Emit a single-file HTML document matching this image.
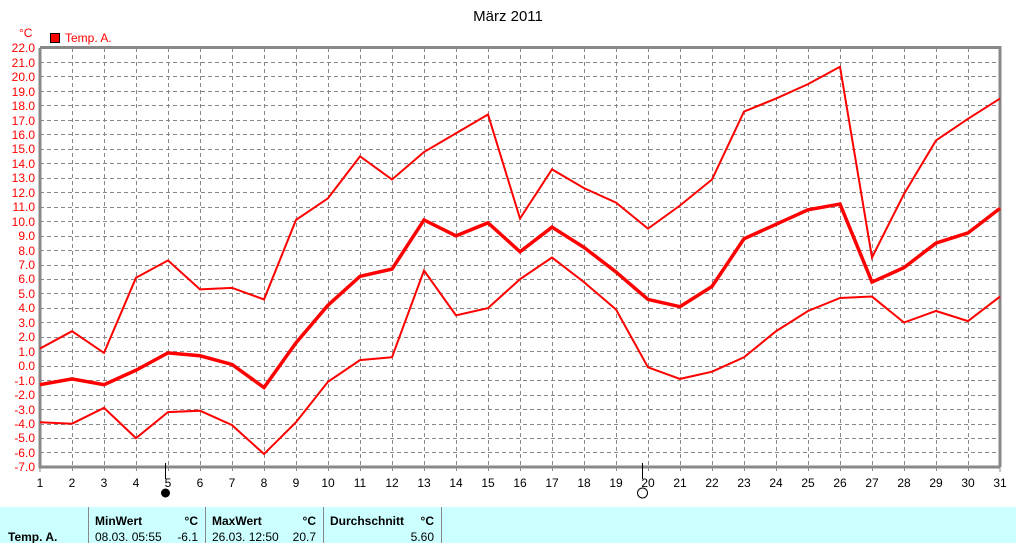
<!DOCTYPE html>
<html><head><meta charset="utf-8"><style>
body{margin:0;background:#fff;width:1016px;height:543px;overflow:hidden;font-family:"Liberation Sans",sans-serif}
svg{display:block}
</style></head><body>
<svg width="1016" height="543" viewBox="0 0 1016 543" font-family="Liberation Sans, sans-serif">
<rect width="1016" height="543" fill="#fff"/>
<text x="508" y="21" font-size="15" text-anchor="middle">März 2011</text>
<text x="19" y="37" font-size="12" fill="#f00">°C</text>
<rect x="50.5" y="33.5" width="9" height="9" fill="#f00" stroke="#000"/>
<text x="65" y="42" font-size="12" fill="#f00">Temp. A.</text>
<g stroke="#888" stroke-dasharray="4,3" stroke-width="1">
<path d="M72.5 48V471M104.5 48V471M136.5 48V471M168.5 48V471M200.5 48V471M232.5 48V471M264.5 48V471M296.5 48V471M328.5 48V471M360.5 48V471M392.5 48V471M424.5 48V471M456.5 48V471M488.5 48V471M520.5 48V471M552.5 48V471M584.5 48V471M616.5 48V471M648.5 48V471M680.5 48V471M712.5 48V471M744.5 48V471M776.5 48V471M808.5 48V471M840.5 48V471M872.5 48V471M904.5 48V471M936.5 48V471M968.5 48V471"/>
<path d="M40 62.5H1000M40 76.5H1000M40 91.5H1000M40 105.5H1000M40 120.5H1000M40 134.5H1000M40 149.5H1000M40 163.5H1000M40 178.5H1000M40 192.5H1000M40 207.5H1000M40 221.5H1000M40 236.5H1000M40 250.5H1000M40 265.5H1000M40 279.5H1000M40 293.5H1000M40 308.5H1000M40 322.5H1000M40 337.5H1000M40 351.5H1000M40 366.5H1000M40 380.5H1000M40 395.5H1000M40 409.5H1000M40 424.5H1000M40 438.5H1000M40 452.5H1000"/>
</g>
<path d="M40 47.5H1000V467M40 48V467H1000" fill="none" stroke="#888" stroke-width="3"/>
<path d="M40 467v5M1000 467v5" stroke="#888"/>
<g fill="none" stroke="#f00" stroke-linejoin="miter">
<g transform="matrix(32 0 0 -14.45 8 365.9)">
<polyline vector-effect="non-scaling-stroke" stroke-width="2" points="1,1.2 2,2.4 3,0.9 4,6.1 5,7.3 6,5.3 7,5.4 8,4.6 9,10.1 10,11.6 11,14.5 12,12.9 13,14.8 14,16.1 15,17.4 16,10.2 17,13.6 18,12.3 19,11.3 20,9.5 21,11.1 22,12.9 23,17.6 24,18.5 25,19.5 26,20.7 27,7.5 28,11.9 29,15.6 30,17.1 31,18.5"/>
<polyline vector-effect="non-scaling-stroke" stroke-width="3.5" points="1,-1.3 2,-0.9 3,-1.3 4,-0.3 5,0.9 6,0.7 7,0.1 8,-1.5 9,1.6 10,4.2 11,6.2 12,6.7 13,10.1 14,9.0 15,9.9 16,7.9 17,9.6 18,8.2 19,6.5 20,4.6 21,4.1 22,5.5 23,8.8 24,9.8 25,10.8 26,11.2 27,5.8 28,6.8 29,8.5 30,9.2 31,10.9"/>
<polyline vector-effect="non-scaling-stroke" stroke-width="2" points="1,-3.9 2,-4.0 3,-2.9 4,-5.0 5,-3.2 6,-3.1 7,-4.1 8,-6.1 9,-3.9 10,-1.1 11,0.4 12,0.6 13,6.6 14,3.5 15,4.0 16,6.0 17,7.5 18,5.8 19,3.9 20,-0.1 21,-0.9 22,-0.4 23,0.6 24,2.4 25,3.8 26,4.7 27,4.8 28,3.0 29,3.8 30,3.1 31,4.8"/>
</g></g>
<g font-size="12" fill="#f00" text-anchor="end">
<text x="35" y="52">22.0</text><text x="35" y="67">21.0</text><text x="35" y="81">20.0</text><text x="35" y="96">19.0</text><text x="35" y="110">18.0</text><text x="35" y="125">17.0</text><text x="35" y="139">16.0</text><text x="35" y="153">15.0</text><text x="35" y="168">14.0</text><text x="35" y="182">13.0</text><text x="35" y="197">12.0</text><text x="35" y="211">11.0</text><text x="35" y="226">10.0</text><text x="35" y="240">9.0</text><text x="35" y="255">8.0</text><text x="35" y="269">7.0</text><text x="35" y="283">6.0</text><text x="35" y="298">5.0</text><text x="35" y="312">4.0</text><text x="35" y="327">3.0</text><text x="35" y="341">2.0</text><text x="35" y="356">1.0</text><text x="35" y="370">0.0</text><text x="35" y="385">-1.0</text><text x="35" y="399">-2.0</text><text x="35" y="414">-3.0</text><text x="35" y="428">-4.0</text><text x="35" y="442">-5.0</text><text x="35" y="457">-6.0</text><text x="35" y="471">-7.0</text>
</g>
<g font-size="12" fill="#000" text-anchor="middle">
<text x="40" y="487">1</text><text x="72" y="487">2</text><text x="104" y="487">3</text><text x="136" y="487">4</text><text x="168" y="487">5</text><text x="200" y="487">6</text><text x="232" y="487">7</text><text x="264" y="487">8</text><text x="296" y="487">9</text><text x="328" y="487">10</text><text x="360" y="487">11</text><text x="392" y="487">12</text><text x="424" y="487">13</text><text x="456" y="487">14</text><text x="488" y="487">15</text><text x="520" y="487">16</text><text x="552" y="487">17</text><text x="584" y="487">18</text><text x="616" y="487">19</text><text x="648" y="487">20</text><text x="680" y="487">21</text><text x="712" y="487">22</text><text x="744" y="487">23</text><text x="776" y="487">24</text><text x="808" y="487">25</text><text x="840" y="487">26</text><text x="872" y="487">27</text><text x="904" y="487">28</text><text x="936" y="487">29</text><text x="968" y="487">30</text><text x="1000" y="487">31</text>
</g>
<path d="M165.5 463v16M642.5 463v16" stroke="#000"/>
<circle cx="165.5" cy="493" r="4.5" fill="#000"/>
<circle cx="642.5" cy="493" r="5" fill="none" stroke="#000"/>
<rect x="0" y="507" width="1016" height="36" fill="#ccffff"/>
<path d="M88.5 507v36M205.5 507v36M323.5 507v36M441.5 507v36" stroke="#888" stroke-width="1"/>
<g font-size="12" fill="#000">
<text x="95" y="525" font-weight="bold">MinWert</text><text x="198" y="525" text-anchor="end" font-weight="bold">°C</text>
<text x="95" y="541">08.03.  05:55</text><text x="198" y="541" text-anchor="end">-6.1</text>
<text x="212" y="525" font-weight="bold">MaxWert</text><text x="316" y="525" text-anchor="end" font-weight="bold">°C</text>
<text x="212" y="541">26.03.  12:50</text><text x="316" y="541" text-anchor="end">20.7</text>
<text x="330" y="525" font-weight="bold">Durchschnitt</text><text x="434" y="525" text-anchor="end" font-weight="bold">°C</text>
<text x="434" y="541" text-anchor="end">5.60</text>
<text x="8" y="541" font-weight="bold">Temp. A.</text>
</g>
</svg>
</body></html>
